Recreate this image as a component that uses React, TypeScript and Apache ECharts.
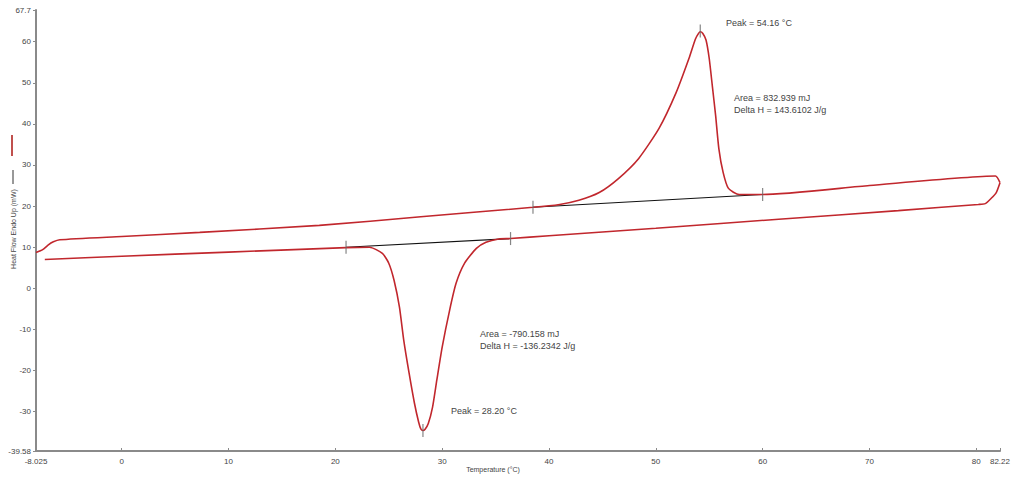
import React, { useEffect, useRef } from "react";
import * as echarts from "echarts";

// Heating run (upper curve, endothermic peak)
const heatX = [-8.025, -7.4, -6.9, -6.4, -5.8, 0, 7.3, 18.5, 28, 38.5, 41, 42.8, 44.7, 46.5, 48.4, 50.3, 51.9, 53.1, 53.7, 54.0, 54.16, 54.4, 54.7, 55.0, 55.3, 55.6, 55.9, 56.3, 56.8, 57.8, 60, 70, 81.8, 82.22];
const heatY = [8.7, 9.4, 10.5, 11.3, 11.8, 12.6, 13.6, 15.3, 17.4, 19.7, 20.4, 21.4, 23.3, 26.7, 31.6, 38.9, 47.6, 55.9, 60.6, 62.0, 62.4, 62.0, 60.4, 55.9, 49.0, 42.0, 34.0, 28.2, 24.3, 22.8, 22.8, 25.0, 27.3, 25.7];

// Cooling run (lower curve, exothermic peak)
const coolX = [82.22, 81.87, 81.4, 80.84, 80.19, 72.7, 61.5, 50, 40, 36.4, 35.3, 34.1, 33.2, 32.1, 31.3, 30.7, 30.0, 29.5, 29.1, 28.7, 28.4, 28.2, 28.0, 27.8, 27.4, 26.9, 26.4, 26.0, 25.5, 25.0, 24.4, 23.2, 21, 10, 0, -7.2];
const coolY = [25.7, 23.3, 21.9, 20.6, 20.4, 18.9, 16.8, 14.6, 12.8, 12.1, 12.0, 11.2, 9.7, 6.1, 1.2, -5.3, -14.3, -22.3, -28.9, -32.9, -34.3, -34.6, -34.2, -32.6, -27.9, -20.6, -12.6, -4.6, 1.9, 6.1, 8.5, 10.0, 9.9, 8.8, 7.8, 7.0];

// Integration baselines
const heatBaseX = [38.5, 60];
const heatBaseY = [19.7, 22.8];
const coolBaseX = [21, 36.4];
const coolBaseY = [10.0, 12.1];

// Marker ticks (baseline limits and peaks)
const markX = [38.5, 60, 21, 36.4, 54.16, 28.2];
const markY = [19.7, 22.8, 10.0, 12.1, 62.6, -34.6];

const xTicks = [-8.025, 0, 10, 20, 30, 40, 50, 60, 70, 80, 82.22];
const yTicks = [-39.58, -30, -20, -10, 0, 10, 20, 30, 40, 50, 60, 67.7];

const peakHeatText = "Peak = 54.16 °C";
const areaHeatText = ["Area = 832.939 mJ", "Delta H = 143.6102 J/g"];
const areaCoolText = ["Area = -790.158 mJ", "Delta H = -136.2342 J/g"];
const peakCoolText = "Peak = 28.20 °C";

const zip = (xs: number[], ys: number[]) => xs.map((x, i) => [x, ys[i]]);

const FONT = "Liberation Sans, Arial, sans-serif";
const RED = "#c1272d";
const AXIS = "#8a8a8a";
const TXT = "#444";

export default function App() {
  const ref = useRef<HTMLDivElement>(null);
  useEffect(() => {
    if (!ref.current) return;
    const chart = echarts.init(ref.current, null, { renderer: "svg" });
    const textEl = (x: number, y: number, text: string, size = 9, extra: any = {}) => ({
      type: "text",
      x,
      y,
      style: { text, fill: TXT, font: `${size}px ${FONT}`, textVerticalAlign: "middle", ...extra },
    });
    chart.setOption({
      animation: false,
      backgroundColor: "#fff",
      grid: { left: 36, right: 10, top: 10, bottom: 28, containLabel: false },
      xAxis: {
        type: "value",
        min: -8.025,
        max: 82.22,
        axisLine: { show: true, onZero: false, lineStyle: { color: AXIS, width: 2 } },
        axisTick: { show: true, inside: true, length: 3, customValues: xTicks, lineStyle: { color: AXIS } },
        axisLabel: { customValues: xTicks, color: TXT, fontSize: 8, fontFamily: FONT, margin: 6, formatter: (v: number) => String(v) },
        splitLine: { show: false },
      },
      yAxis: {
        type: "value",
        min: -39.58,
        max: 67.7,
        axisLine: { show: true, onZero: false, lineStyle: { color: AXIS, width: 2 } },
        axisTick: { show: true, length: 3, customValues: yTicks, lineStyle: { color: AXIS } },
        axisLabel: { customValues: yTicks, color: TXT, fontSize: 8, fontFamily: FONT, margin: 5, formatter: (v: number) => String(v) },
        splitLine: { show: false },
      },
      series: [
        {
          type: "line",
          data: zip(heatX, heatY),
          showSymbol: false,
          smooth: 0.2,
          lineStyle: { color: RED, width: 1.6 },
          z: 3,
        },
        {
          type: "line",
          data: zip(coolX, coolY),
          showSymbol: false,
          smooth: 0.2,
          lineStyle: { color: RED, width: 1.6 },
          z: 3,
        },
        {
          type: "line",
          data: zip(heatBaseX, heatBaseY),
          showSymbol: false,
          lineStyle: { color: "#111", width: 1.1 },
          z: 2,
        },
        {
          type: "line",
          data: zip(coolBaseX, coolBaseY),
          showSymbol: false,
          lineStyle: { color: "#111", width: 1.1 },
          z: 2,
        },
        {
          type: "scatter",
          data: zip(markX, markY),
          symbol: "rect",
          symbolSize: [1.2, 13],
          itemStyle: { color: "#666" },
          z: 4,
        },
      ],
      graphic: [
        { type: "line", shape: { x1: 12, y1: 135, x2: 12, y2: 156 }, style: { stroke: "#c0504d", lineWidth: 2 } },
        { type: "line", shape: { x1: 13, y1: 170, x2: 13, y2: 184 }, style: { stroke: "#333", lineWidth: 1 } },
        {
          type: "text",
          x: 13,
          y: 229,
          rotation: Math.PI / 2,
          style: { text: "Heat Flow Endo Up (mW)", fill: TXT, font: `7px ${FONT}`, textAlign: "center", textVerticalAlign: "middle" },
        },
        textEl(493, 469, "Temperature (°C)", 7, { textAlign: "center" }),
        textEl(726, 23, peakHeatText),
        textEl(734, 98, areaHeatText[0]),
        textEl(734, 110, areaHeatText[1]),
        textEl(480, 334, areaCoolText[0]),
        textEl(480, 346, areaCoolText[1]),
        textEl(451, 411, peakCoolText),
      ],
    });
    return () => chart.dispose();
  }, []);
  return <div ref={ref} style={{ position: "absolute", left: 0, top: 0, width: 1013, height: 479 }} />;
}
